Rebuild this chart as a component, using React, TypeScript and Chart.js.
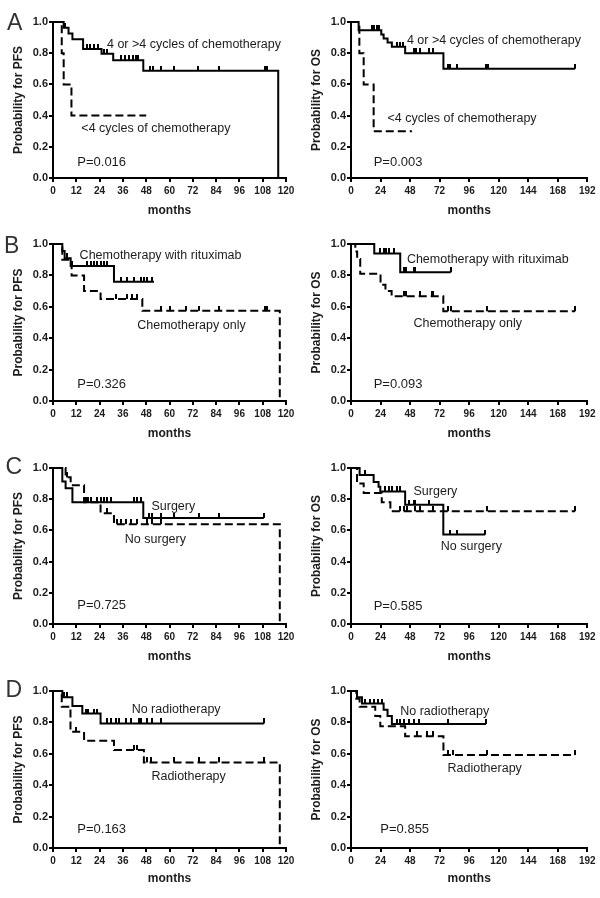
import React, { useEffect, useRef } from "react";
import { Chart, registerables } from "chart.js";
Chart.register(...registerables);

const FONT = '"Liberation Sans", Arial, Helvetica, sans-serif';
const INK = "#1c1c1c";
const LINE = "#000";

// ---- tick labels ----
const pfsMonthTicks = [0, 12, 24, 36, 48, 60, 72, 84, 96, 108, 120];
const osMonthTicks = [0, 24, 48, 72, 96, 120, 144, 168, 192];
const probTicks = [0, 0.2, 0.4, 0.6, 0.8, 1.0];

// ---- Panel A: cycles of chemotherapy ----
const aPfsHighT = [0, 5.5, 8, 10, 15.5, 25, 31, 46.5, 116];
const aPfsHighS = [1, 0.963, 0.926, 0.889, 0.827, 0.796, 0.755, 0.687, 0];
const aPfsHighC = [6, 17.5, 19, 21, 23, 26.5, 28, 35, 37, 39, 41, 42.5, 44, 50, 51.5, 55.5, 62.5, 74.5, 85.5, 109, 110];
const aPfsLowT = [0, 4.5, 5.5, 9.5, 48];
const aPfsLowS = [1, 0.8, 0.6, 0.4, 0.4];
const aPfsLowC: number[] = [];

const aOsHighT = [0, 6.2, 24.6, 26.5, 29.7, 33.2, 44, 75.1, 182];
const aOsHighS = [1, 0.947, 0.92, 0.894, 0.868, 0.842, 0.8, 0.7, 0.7];
const aOsHighC = [17, 19, 21, 23, 37.3, 40, 42, 50.8, 52.7, 56.2, 63, 67, 79.2, 80.5, 86, 110, 111, 182];
const aOsLowT = [0, 6.8, 10.3, 18.4, 49.5];
const aOsLowS = [1, 0.8, 0.6, 0.3, 0.3];
const aOsLowC: number[] = [];

// ---- Panel B: rituximab ----
const bPfsRitT = [0, 4.8, 6, 9.1, 31.4, 52];
const bPfsRitS = [1, 0.955, 0.91, 0.86, 0.76, 0.76];
const bPfsRitC = [7, 10, 17.7, 19.4, 21.1, 22.8, 24.5, 26.2, 28, 34.8, 38.3, 41.7, 45.1, 46.8, 48.5, 51.1];
const bPfsOnlyT = [0, 4.8, 9.6, 16, 24.5, 46, 116.8];
const bPfsOnlyS = [1, 0.9, 0.8, 0.7, 0.65, 0.575, 0];
const bPfsOnlyC = [32.2, 38.3, 40.8, 43.4, 55.4, 60.5, 68.3, 75.1, 85.4, 109.4, 110.3];

const bOsRitT = [0, 18.9, 40, 81];
const bOsRitS = [1, 0.94, 0.82, 0.82];
const bOsRitC = [23.8, 26.5, 28.6, 30.5, 35, 42.7, 44.9, 50.8, 52.2, 81];
const bOsOnlyT = [0, 3.5, 5, 7.5, 24, 28, 33, 75, 182];
const bOsOnlyS = [1, 0.952, 0.905, 0.81, 0.74, 0.7, 0.667, 0.572, 0.572];
const bOsOnlyC = [42.7, 44.9, 56.2, 65.7, 67, 79.2, 81, 110.3, 182];

// ---- Panel C: surgery ----
const cPfsSurgT = [0, 4.8, 6.5, 10, 46.5, 108.6];
const cPfsSurgS = [1, 0.913, 0.87, 0.78, 0.68, 0.68];
const cPfsSurgC = [16.8, 18, 19.4, 22.8, 24.5, 26.2, 28, 29.7, 41.7, 43.4, 45.1, 49.4, 51.1, 55.4, 62.3, 75.1, 85.4, 108.6];
const cPfsNoT = [0, 6.5, 9.1, 16, 24.5, 31.4, 116.8];
const cPfsNoS = [1, 0.94, 0.89, 0.78, 0.71, 0.64, 0];
const cPfsNoC = [7.4, 28, 33.1, 34.8, 37.4, 40, 43.4, 48.5, 51.1, 55.4];

const cOsSolidT = [0, 7, 18.4, 22.4, 23.8, 44, 75, 109];
const cOsSolidS = [1, 0.955, 0.91, 0.88, 0.85, 0.764, 0.573, 0.573];
const cOsSolidC = [11.6, 27.8, 30.5, 33.2, 37.3, 40, 46.8, 50.8, 52.2, 63, 80.5, 86, 109];
const cOsDashT = [0, 4.9, 10.3, 25, 32, 182];
const cOsDashS = [1, 0.9, 0.84, 0.78, 0.723, 0.723];
const cOsDashC = [40, 42.7, 45.4, 52.2, 56.2, 67, 79.2, 110.3, 182];

// ---- Panel D: radiotherapy ----
const dPfsNoRadT = [0, 4.8, 10, 15.1, 24.5, 108.6];
const dPfsNoRadS = [1, 0.96, 0.905, 0.856, 0.793, 0.793];
const dPfsNoRadC = [5.7, 7.4, 16.8, 18, 21.1, 22.8, 28, 29.7, 32.2, 34, 37.4, 40, 44.3, 45.1, 48.5, 51.1, 55.4, 108.6];
const dPfsRadT = [0, 4.5, 9, 16, 31.4, 46.8, 116.8];
const dPfsRadS = [1, 0.9, 0.74, 0.683, 0.624, 0.545, 0];
const dPfsRadC = [11.7, 41.7, 43.4, 48.5, 50.3, 62.3, 75.1, 85.4, 108.6];

const dOsNoRadT = [0, 4.9, 8.9, 26.5, 29.7, 33.2, 109.7];
const dOsNoRadS = [1, 0.96, 0.92, 0.88, 0.84, 0.79, 0.79];
const dOsNoRadC = [11.6, 15.7, 18.9, 21.6, 25.1, 37.3, 40, 42.7, 46.8, 50.8, 54.9, 79.2, 109.7];
const dOsRadT = [0, 4.3, 7, 19.7, 23.8, 44, 75.1, 182];
const dOsRadS = [1, 0.95, 0.9, 0.84, 0.776, 0.712, 0.592, 0.592];
const dOsRadC = [53.5, 61.6, 67, 79.2, 83.2, 110.3, 182];

type Lbl = { text: string; x: number; y: number; size: number };
type PanelDef = {
  left: number;
  chartTop: number;
  chartH: number;
  xH: number;
  os: boolean;
  yTitle: string;
  solidT: number[];
  solidS: number[];
  solidC: number[];
  dashT: number[];
  dashS: number[];
  dashC: number[];
  labels: Lbl[];
};

const rows = [
  { chartTop: 22, chartH: 156, xH: 40 },
  { chartTop: 244, chartH: 157, xH: 40 },
  { chartTop: 468, chartH: 156, xH: 40 },
  { chartTop: 691, chartH: 157, xH: 38 },
];

const T = 12.5;
const P = 13;

const panels: PanelDef[] = [
  {
    left: 0, ...rows[0], os: false, yTitle: "Probability for PFS",
    solidT: aPfsHighT, solidS: aPfsHighS, solidC: aPfsHighC,
    dashT: aPfsLowT, dashS: aPfsLowS, dashC: aPfsLowC,
    labels: [
      { text: "4 or >4 cycles of chemotherapy", x: 27.8, y: 0.857, size: T },
      { text: "<4 cycles of chemotherapy", x: 14.6, y: 0.316, size: T },
      { text: "P=0.016", x: 12.5, y: 0.1, size: P },
    ],
  },
  {
    left: 300, ...rows[0], os: true, yTitle: "Probability for OS",
    solidT: aOsHighT, solidS: aOsHighS, solidC: aOsHighC,
    dashT: aOsLowT, dashS: aOsLowS, dashC: aOsLowC,
    labels: [
      { text: "4 or >4 cycles of chemotherapy", x: 45.4, y: 0.881, size: T },
      { text: "<4 cycles of chemotherapy", x: 29.7, y: 0.384, size: T },
      { text: "P=0.003", x: 18.4, y: 0.1, size: P },
    ],
  },
  {
    left: 0, ...rows[1], os: false, yTitle: "Probability for PFS",
    solidT: bPfsRitT, solidS: bPfsRitS, solidC: bPfsRitC,
    dashT: bPfsOnlyT, dashS: bPfsOnlyS, dashC: bPfsOnlyC,
    labels: [
      { text: "Chemotherapy with rituximab", x: 13.7, y: 0.926, size: T },
      { text: "Chemotherapy only", x: 43.4, y: 0.481, size: T },
      { text: "P=0.326", x: 12.5, y: 0.106, size: P },
    ],
  },
  {
    left: 300, ...rows[1], os: true, yTitle: "Probability for OS",
    solidT: bOsRitT, solidS: bOsRitS, solidC: bOsRitC,
    dashT: bOsOnlyT, dashS: bOsOnlyS, dashC: bOsOnlyC,
    labels: [
      { text: "Chemotherapy with rituximab", x: 45.4, y: 0.9, size: T },
      { text: "Chemotherapy only", x: 50.8, y: 0.492, size: T },
      { text: "P=0.093", x: 18.4, y: 0.106, size: P },
    ],
  },
  {
    left: 0, ...rows[2], os: false, yTitle: "Probability for PFS",
    solidT: cPfsSurgT, solidS: cPfsSurgS, solidC: cPfsSurgC,
    dashT: cPfsNoT, dashS: cPfsNoS, dashC: cPfsNoC,
    labels: [
      { text: "Surgery", x: 50.7, y: 0.754, size: T },
      { text: "No surgery", x: 37, y: 0.54, size: T },
      { text: "P=0.725", x: 12.5, y: 0.116, size: P },
    ],
  },
  {
    left: 300, ...rows[2], os: true, yTitle: "Probability for OS",
    solidT: cOsSolidT, solidS: cOsSolidS, solidC: cOsSolidC,
    dashT: cOsDashT, dashS: cOsDashS, dashC: cOsDashC,
    labels: [
      { text: "Surgery", x: 50.8, y: 0.85, size: T },
      { text: "No surgery", x: 73, y: 0.497, size: T },
      { text: "P=0.585", x: 18.4, y: 0.111, size: P },
    ],
  },
  {
    left: 0, ...rows[3], os: false, yTitle: "Probability for PFS",
    solidT: dPfsNoRadT, solidS: dPfsNoRadS, solidC: dPfsNoRadC,
    dashT: dPfsRadT, dashS: dPfsRadS, dashC: dPfsRadC,
    labels: [
      { text: "No radiotherapy", x: 40.5, y: 0.884, size: T },
      { text: "Radiotherapy", x: 50.7, y: 0.453, size: T },
      { text: "P=0.163", x: 12.5, y: 0.116, size: P },
    ],
  },
  {
    left: 300, ...rows[3], os: true, yTitle: "Probability for OS",
    solidT: dOsNoRadT, solidS: dOsNoRadS, solidC: dOsNoRadC,
    dashT: dOsRadT, dashS: dOsRadS, dashC: dOsRadC,
    labels: [
      { text: "No radiotherapy", x: 40, y: 0.871, size: T },
      { text: "Radiotherapy", x: 78.4, y: 0.507, size: T },
      { text: "P=0.855", x: 23.8, y: 0.116, size: P },
    ],
  },
];

const panelLetters = [
  { text: "A", left: 7, baseline: 30 },
  { text: "B", left: 4, baseline: 253 },
  { text: "C", left: 5.5, baseline: 474 },
  { text: "D", left: 5.5, baseline: 697 },
];

function kmPoints(t: number[], s: number[]) {
  return t.map((x, i) => ({ x, y: s[i] }));
}

function stepValue(t: number[], s: number[], x: number) {
  let v = s[0];
  for (let i = 0; i < t.length; i++) if (t[i] <= x) v = s[i];
  return v;
}

function censorPoints(c: number[], t: number[], s: number[]) {
  return c.map((x) => ({ x, y: stepValue(t, s, x) }));
}

let tickImg: HTMLCanvasElement | null = null;
function getTickImg() {
  if (tickImg) return tickImg;
  const c = document.createElement("canvas");
  c.width = 2;
  c.height = 10;
  const g = c.getContext("2d")!;
  g.fillStyle = LINE;
  g.fillRect(0, 0, 2, 5);
  tickImg = c;
  return c;
}

const kmLabelPlugin = {
  id: "kmLabels",
  afterDatasetsDraw(chart: any, _args: any, opts: any) {
    const { ctx, scales } = chart;
    const xs = scales.x;
    const ys = scales.y;
    ctx.save();
    ctx.fillStyle = INK;
    ctx.textBaseline = "middle";
    ctx.textAlign = "left";
    for (const it of opts.items as Lbl[]) {
      ctx.font = `${it.size}px ${FONT}`;
      ctx.fillText(it.text, xs.getPixelForValue(it.x), ys.getPixelForValue(it.y));
    }
    ctx.restore();
  },
};

function buildConfig(p: PanelDef): any {
  const xTicks = p.os ? osMonthTicks : pfsMonthTicks;
  const xMax = xTicks[xTicks.length - 1];
  const isLeft = p.left === 0;
  const padLeft = isLeft ? 11 : 9.5;
  const yWidth = isLeft ? 42 : 41.5;
  const padRight = isLeft ? 14 : 12.7;
  const tick = getTickImg();
  const lineBase = {
    borderColor: LINE,
    backgroundColor: LINE,
    borderWidth: 2,
    stepped: true,
    pointRadius: 0,
    pointHoverRadius: 0,
    fill: false,
    clip: false as any,
  };
  const censBase = {
    showLine: false,
    pointStyle: tick,
    pointRadius: 3,
    pointHoverRadius: 3,
    borderWidth: 0,
    clip: false as any,
  };
  return {
    type: "line",
    data: {
      datasets: [
        { ...lineBase, data: kmPoints(p.solidT, p.solidS) },
        { ...lineBase, borderDash: [8, 4], data: kmPoints(p.dashT, p.dashS) },
        { ...censBase, data: censorPoints(p.solidC, p.solidT, p.solidS) },
        { ...censBase, data: censorPoints(p.dashC, p.dashT, p.dashS) },
      ],
    },
    options: {
      animation: false,
      responsive: false,
      maintainAspectRatio: false,
      devicePixelRatio: 1,
      events: [],
      layout: { padding: { left: padLeft, right: padRight, top: 22, bottom: 0 } },
      plugins: {
        legend: { display: false },
        tooltip: { enabled: false },
        kmLabels: { items: p.labels },
      },
      scales: {
        x: {
          type: "linear",
          min: 0,
          max: xMax,
          afterBuildTicks: (s: any) => {
            s.ticks = xTicks.map((v) => ({ value: v }));
          },
          afterFit: (s: any) => {
            s.height = p.xH;
          },
          ticks: {
            autoSkip: false,
            maxRotation: 0,
            minRotation: 0,
            padding: 3,
            color: INK,
            font: { family: FONT, size: 10, weight: "bold" },
            callback: (v: any) => String(v),
          },
          grid: {
            display: true,
            drawOnChartArea: false,
            drawTicks: true,
            tickLength: 4,
            color: LINE,
            lineWidth: 2,
          },
          border: { display: true, color: LINE, width: 2 },
          title: {
            display: true,
            text: "months",
            color: INK,
            padding: 0,
            font: { family: FONT, size: 12, weight: "bold" },
          },
        },
        y: {
          type: "linear",
          min: 0,
          max: 1,
          afterBuildTicks: (s: any) => {
            s.ticks = probTicks.map((v) => ({ value: v }));
          },
          afterFit: (s: any) => {
            s.width = yWidth;
          },
          ticks: {
            padding: 1,
            color: INK,
            font: { family: FONT, size: 11, weight: "bold" },
            callback: (v: any) => Number(v).toFixed(1),
          },
          grid: {
            display: true,
            drawOnChartArea: false,
            drawTicks: true,
            tickLength: 4,
            color: LINE,
            lineWidth: 2,
          },
          border: { display: true, color: LINE, width: 2 },
          title: {
            display: true,
            text: p.yTitle,
            color: INK,
            padding: 0,
            font: { family: FONT, size: 12, weight: "bold" },
          },
        },
      },
    },
    plugins: [kmLabelPlugin],
  };
}

function KMPanel({ p }: { p: PanelDef }) {
  const ref = useRef<HTMLCanvasElement>(null);
  const h = 22 + p.chartH + p.xH;
  const top = p.chartTop - 22;
  useEffect(() => {
    const chart = new Chart(ref.current as HTMLCanvasElement, buildConfig(p));
    return () => chart.destroy();
  }, []);
  return (
    <canvas
      ref={ref}
      width={300}
      height={h}
      style={{ position: "absolute", left: p.left, top, width: 300, height: h }}
    />
  );
}

export default function App() {
  return (
    <div
      style={{
        position: "absolute",
        left: 0,
        top: 0,
        width: 600,
        height: 898,
        background: "#fff",
        overflow: "hidden",
      }}
    >
      {panels.map((p, i) => (
        <KMPanel key={i} p={p} />
      ))}
      {panelLetters.map((l) => (
        <div
          key={l.text}
          style={{
            position: "absolute",
            left: l.left,
            top: l.baseline - 19.5,
            fontFamily: FONT,
            fontSize: 23,
            lineHeight: "23px",
            fontWeight: 300,
            color: "#333",
          }}
        >
          {l.text}
        </div>
      ))}
    </div>
  );
}
